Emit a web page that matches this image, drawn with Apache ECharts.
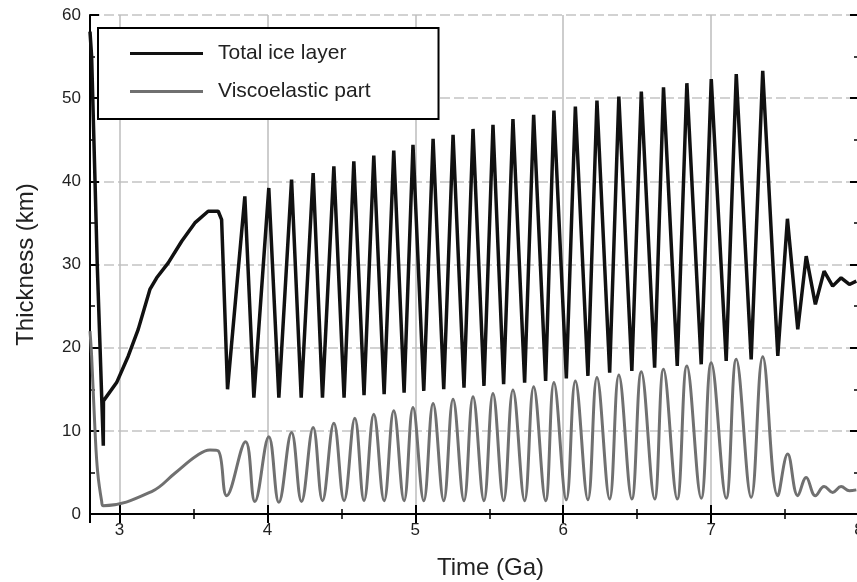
<!DOCTYPE html>
<html>
<head>
<meta charset="utf-8">
<script src="https://cdn.jsdelivr.net/npm/echarts@6/dist/echarts.min.js"></script>
<style>
  html, body { margin: 0; padding: 0; background: #fff; }
  #main { width: 857px; height: 582px; }
</style>
</head>
<body>
<div id="main"></div>
<script>
// total ice layer (Ga, km)
var totalTime = [2.800, 2.811, 2.834, 2.849, 2.868, 2.890, 2.891, 2.980, 3.059, 3.126, 3.205, 3.251, 3.329, 3.420, 3.509, 3.599, 3.667, 3.690, 3.730,
  3.847, 3.908, 4.009, 4.077, 4.163, 4.228, 4.309, 4.372, 4.449, 4.518, 4.584, 4.653, 4.719, 4.789, 4.854, 4.924, 4.984, 5.057,
  5.120, 5.192, 5.255, 5.329, 5.390, 5.464, 5.525, 5.597, 5.660, 5.739, 5.800, 5.881, 5.937, 6.021, 6.082, 6.167, 6.228, 6.314,
  6.376, 6.464, 6.528, 6.618, 6.678, 6.771, 6.836, 6.933, 7.001, 7.102, 7.170, 7.271, 7.349, 7.451, 7.516, 7.586, 7.643, 7.705,
  7.764, 7.822, 7.879, 7.935, 7.982];
var totalThick = [58, 55, 40, 30, 20, 8.2, 13.6, 15.8, 19.0, 22.2, 27.0, 28.4, 30.2, 32.8, 35.0, 36.4, 36.4, 35.4, 15.0,
  38.2, 14.0, 39.2, 14.0, 40.2, 14.0, 41.0, 14.0, 41.8, 14.0, 42.4, 14.3, 43.1, 14.4, 43.7, 14.6, 44.4, 14.8,
  45.1, 15.0, 45.6, 15.2, 46.3, 15.4, 46.8, 15.6, 47.5, 15.8, 48.0, 16.0, 48.5, 16.3, 49.0, 16.6, 49.7, 17.0,
  50.2, 17.2, 50.8, 17.6, 51.3, 17.8, 51.8, 18.0, 52.3, 18.4, 52.9, 18.6, 53.3, 19.0, 35.5, 22.2, 31.0, 25.2,
  29.2, 27.4, 28.4, 27.6, 28.0];

// viscoelastic part
var viscoTime = [2.800, 2.811, 2.834, 2.852, 2.879, 2.890, 3.217, 3.374, 3.521, 3.611, 3.667, 3.724,
  3.852, 3.915, 4.009, 4.077, 4.163, 4.230, 4.309, 4.372, 4.449, 4.518, 4.591, 4.653, 4.719, 4.789, 4.854, 4.924, 4.984, 5.057,
  5.120, 5.192, 5.255, 5.329, 5.390, 5.464, 5.525, 5.597, 5.660, 5.739, 5.800, 5.881, 5.937, 6.021, 6.082, 6.167, 6.228, 6.314,
  6.376, 6.464, 6.528, 6.618, 6.678, 6.771, 6.836, 6.933, 7.001, 7.102, 7.170, 7.271, 7.349, 7.451, 7.518, 7.586, 7.643, 7.705,
  7.764, 7.822, 7.879, 7.935, 7.982];
var viscoThick = [22, 19, 10, 5, 1.5, 1.0, 2.7, 4.9, 7.0, 7.7, 7.6, 2.2,
  8.7, 1.5, 9.3, 1.4, 9.8, 1.5, 10.4, 1.6, 10.9, 1.6, 11.5, 1.6, 12.0, 1.6, 12.4, 1.6, 12.8, 1.6,
  13.3, 1.6, 13.8, 1.6, 14.1, 1.6, 14.5, 1.6, 14.9, 1.6, 15.3, 1.6, 15.8, 1.7, 16.0, 1.7, 16.4, 1.8,
  16.7, 1.8, 17.1, 1.8, 17.4, 1.8, 17.8, 1.9, 18.2, 1.9, 18.6, 2.0, 18.9, 2.2, 7.2, 2.2, 4.4, 2.2,
  3.3, 2.6, 3.3, 2.8, 2.9];

var seriesNames = ['Total ice layer', 'Viscoelastic part'];
var xRange = [2.8, 8];
var yRange = [0, 60];

function pairs(xs, ys) {
  var out = [];
  for (var i = 0; i < xs.length; i++) out.push([xs[i], ys[i]]);
  return out;
}

var FONT = '"Liberation Sans", Arial, sans-serif';
var chart = echarts.init(document.getElementById('main'));

var tickCommon = {
  axisLine: { show: true, lineStyle: { color: '#000', width: 2 } },
  axisTick: { show: true, inside: true, length: 9, lineStyle: { color: '#000', width: 2 } },
  minorTick: { show: true, splitNumber: 2, length: 5, lineStyle: { color: '#000', width: 1.5 } }
};

var option = {
  backgroundColor: '#fff',
  animation: false,
  // right edge (x = 8) sits just past the picture, like the original crop
  grid: { left: 90, right: -2, top: 15, bottom: 68, containLabel: false, outerBoundsMode: 'none' },
  legend: {
    orient: 'vertical',
    left: 98,
    top: 28,
    padding: [15, 68, 17, 32],
    itemGap: 17,
    itemWidth: 73,
    itemHeight: 3,
    icon: 'rect',
    borderColor: '#000',
    borderWidth: 2,
    backgroundColor: '#fff',
    textStyle: { fontFamily: FONT, fontSize: 21, color: '#222', lineHeight: 20, padding: [0, 0, 0, 10] },
    data: seriesNames
  },
  xAxis: [
    Object.assign({
      type: 'value', min: xRange[0], max: xRange[1],
      name: 'Time (Ga)', nameLocation: 'middle', nameGap: 42,
      nameTextStyle: { fontFamily: FONT, fontSize: 24, color: '#222', padding: [0, 0, 0, 32] },
      axisLabel: { showMinLabel: false, fontFamily: FONT, fontSize: 17, color: '#222', margin: 8 },
      splitLine: { show: true, lineStyle: { color: '#bdbdbd', width: 1.5 } }
    }, tickCommon),
    Object.assign({
      type: 'value', min: xRange[0], max: xRange[1], position: 'top',
      axisLabel: { show: false }, splitLine: { show: false }
    }, tickCommon)
  ],
  yAxis: [
    Object.assign({
      type: 'value', min: yRange[0], max: yRange[1], interval: 10,
      name: 'Thickness (km)', nameLocation: 'middle', nameGap: 52,
      nameTextStyle: { fontFamily: FONT, fontSize: 24, color: '#222' },
      axisLabel: { fontFamily: FONT, fontSize: 17, color: '#222', margin: 9 },
      splitLine: { show: true, lineStyle: { color: '#c4c4c4', width: 1.5, type: [10, 4] } }
    }, tickCommon),
    Object.assign({
      type: 'value', min: yRange[0], max: yRange[1], interval: 10, position: 'right',
      axisLabel: { show: false }, splitLine: { show: false }
    }, tickCommon)
  ],
  series: [
    {
      name: seriesNames[0], type: 'line', symbol: 'none',
      color: '#111',
      lineStyle: { color: '#111', width: 3.5 },
      data: pairs(totalTime, totalThick),
      z: 3
    },
    {
      name: seriesNames[1], type: 'line', symbol: 'none',
      color: '#707070',
      smooth: 0.4,
      lineStyle: { color: '#707070', width: 3 },
      data: pairs(viscoTime, viscoThick),
      z: 2
    }
  ]
};

chart.setOption(option);
</script>
</body>
</html>
